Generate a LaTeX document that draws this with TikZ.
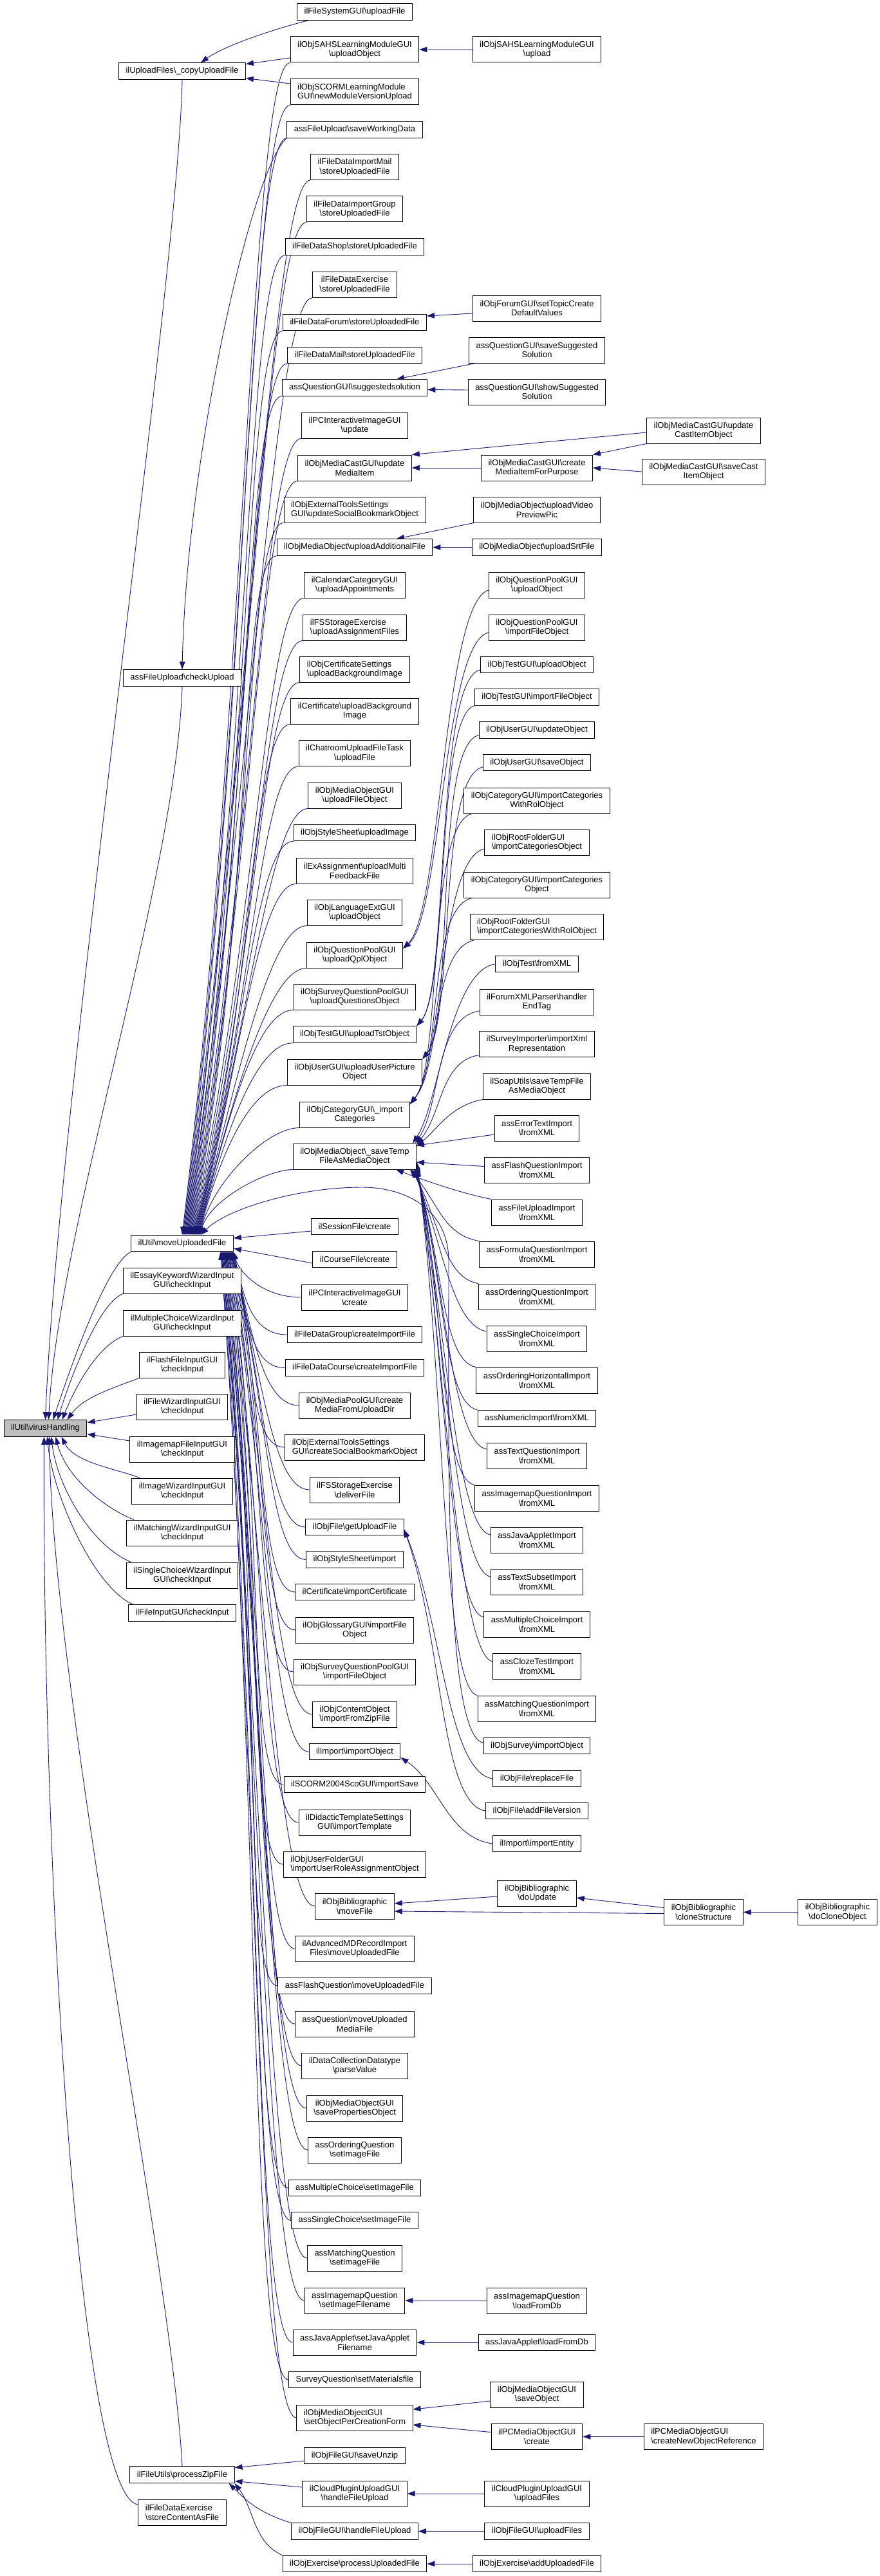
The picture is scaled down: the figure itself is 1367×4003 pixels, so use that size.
\documentclass[tikz,border=0pt]{standalone}
\usepackage{fontspec}
\setmainfont{Liberation Sans}
\usetikzlibrary{arrows.meta,backgrounds}
\definecolor{edgeblue}{HTML}{191970}
\newcommand{\bsl}{\textbackslash}

\begin{document}
\begin{tikzpicture}[x=1pt,y=-1pt,
  fn/.style={draw=black,line width=1pt,fill=white,inner xsep=11pt,inner ysep=2pt,minimum height=25.5pt,align=center,font=\fontsize{13}{14.7}\selectfont},
  fn2/.style={fn,minimum height=40pt},
  fnl/.style={fn2,align=left},
  root/.style={fn,fill=black!25},
  call/.style={edgeblue,line width=0.9pt,-{Triangle[length=12pt,width=8.5pt]}}]
\path[use as bounding box] (0,0) rectangle (1367,4003);

\node[root] (vh) at (70.5,2219.5) {ilUtil\bsl virusHandling};

\node[fn] (copy) at (283,110.5) {ilUploadFiles\bsl\_copyUploadFile};
\node[fn] (chkup) at (283,1053.5) {assFileUpload\bsl checkUpload};
\node[fn] (mv) at (283,1932) {ilUtil\bsl moveUploadedFile};
\node[fn2] (essay) at (283,1990) {ilEssayKeywordWizardInput\\GUI\bsl checkInput};
\node[fn2] (mcwiz) at (283,2056) {ilMultipleChoiceWizardInput\\GUI\bsl checkInput};
\node[fn2] (flashin) at (283,2121) {ilFlashFileInputGUI\\\bsl checkInput};
\node[fn2] (filewiz) at (283,2186) {ilFileWizardInputGUI\\\bsl checkInput};
\node[fn2] (imgmapin) at (283,2252) {ilImagemapFileInputGUI\\\bsl checkInput};
\node[fn2] (imgwiz) at (283,2317) {ilImageWizardInputGUI\\\bsl checkInput};
\node[fn2] (matchwiz) at (283,2382) {ilMatchingWizardInputGUI\\\bsl checkInput};
\node[fn2] (scwiz) at (283,2448) {ilSingleChoiceWizardInput\\GUI\bsl checkInput};
\node[fn] (filein) at (283,2506.5) {ilFileInputGUI\bsl checkInput};
\node[fn] (zip) at (283,3845.6) {ilFileUtils\bsl processZipFile};
\node[fnl] (exstorecontent) at (283,3904) {ilFileDataExercise\\\bsl storeContentAsFile};

\node[fn] (fs) at (551,18.5) {ilFileSystemGUI\bsl uploadFile};
\node[fn2] (sahsobj) at (551,77) {ilObjSAHSLearningModuleGUI\\\bsl uploadObject};
\node[fnl] (scorm) at (551,143) {ilObjSCORMLearningModule\\GUI\bsl newModuleVersionUpload};
\node[fn] (savewd) at (551,201.5) {assFileUpload\bsl saveWorkingData};
\node[fn2] (impmail) at (551,259.5) {ilFileDataImportMail\\\bsl storeUploadedFile};
\node[fn2] (impgroup) at (551,325) {ilFileDataImportGroup\\\bsl storeUploadedFile};
\node[fn] (shopstore) at (551,383.5) {ilFileDataShop\bsl storeUploadedFile};
\node[fn2] (exstore) at (551,442.5) {ilFileDataExercise\\\bsl storeUploadedFile};
\node[fn] (forumstore) at (551,501) {ilFileDataForum\bsl storeUploadedFile};
\node[fn] (mailstore) at (551,552) {ilFileDataMail\bsl storeUploadedFile};
\node[fn] (sugg) at (551,602.5) {assQuestionGUI\bsl suggestedsolution};
\node[fn2] (pcupdate) at (551,661) {ilPCInteractiveImageGUI\\\bsl update};
\node[fn2] (updmedia) at (551,727) {ilObjMediaCastGUI\bsl update\\MediaItem};
\node[fnl] (updbookmark) at (551,792) {ilObjExternalToolsSettings\\GUI\bsl updateSocialBookmarkObject};
\node[fn] (addfile) at (551,850.5) {ilObjMediaObject\bsl uploadAdditionalFile};
\node[fn2] (calupload) at (551,909) {ilCalendarCategoryGUI\\\bsl uploadAppointments};
\node[fnl] (fsassign) at (551,975) {ilFSStorageExercise\\\bsl uploadAssignmentFiles};
\node[fnl] (certsetbg) at (551,1040) {ilObjCertificateSettings\\\bsl uploadBackgroundImage};
\node[fn2] (certbg) at (551,1105) {ilCertificate\bsl uploadBackground\\Image};
\node[fn2] (chatupload) at (551,1170.5) {ilChatroomUploadFileTask\\\bsl uploadFile};
\node[fn2] (mobupload) at (551,1236) {ilObjMediaObjectGUI\\\bsl uploadFileObject};
\node[fn] (styleimg) at (551,1294) {ilObjStyleSheet\bsl uploadImage};
\node[fn2] (exmulti) at (551,1353) {ilExAssignment\bsl uploadMulti\\FeedbackFile};
\node[fn2] (langupload) at (551,1418) {ilObjLanguageExtGUI\\\bsl uploadObject};
\node[fn2] (qpl) at (551,1484) {ilObjQuestionPoolGUI\\\bsl uploadQplObject};
\node[fn2] (sqpupload) at (551,1549) {ilObjSurveyQuestionPoolGUI\\\bsl uploadQuestionsObject};
\node[fn] (tst) at (551,1607.5) {ilObjTestGUI\bsl uploadTstObject};
\node[fn2] (userpic) at (551,1666) {ilObjUserGUI\bsl uploadUserPicture\\Object};
\node[fn2] (impcat) at (551,1732) {ilObjCategoryGUI\bsl\_import\\Categories};
\node[fn2] (savetemp) at (551,1797) {ilObjMediaObject\bsl\_saveTemp\\FileAsMediaObject};
\node[fn] (sesscreate) at (551,1906) {ilSessionFile\bsl create};
\node[fn] (crscreate) at (551,1957) {ilCourseFile\bsl create};
\node[fn2] (pccreate) at (551,2016) {ilPCInteractiveImageGUI\\\bsl create};
\node[fn] (grpimport) at (551,2074) {ilFileDataGroup\bsl createImportFile};
\node[fn] (crsimport) at (551,2125.5) {ilFileDataCourse\bsl createImportFile};
\node[fn2] (mepcreate) at (551,2184) {ilObjMediaPoolGUI\bsl create\\MediaFromUploadDir};
\node[fnl] (createbookmark) at (551,2249) {ilObjExternalToolsSettings\\GUI\bsl createSocialBookmarkObject};
\node[fn2] (fsdeliver) at (551,2315) {ilFSStorageExercise\\\bsl deliverFile};
\node[fn] (getupload) at (551,2373) {ilObjFile\bsl getUploadFile};
\node[fn] (styleimport) at (551,2423.5) {ilObjStyleSheet\bsl import};
\node[fn] (certimport) at (551,2474) {ilCertificate\bsl importCertificate};
\node[fn2] (gloimport) at (551,2533) {ilObjGlossaryGUI\bsl importFile\\Object};
\node[fn2] (sqpimport) at (551,2598) {ilObjSurveyQuestionPoolGUI\\\bsl importFileObject};
\node[fn2] (zipimport) at (551,2664) {ilObjContentObject\\\bsl importFromZipFile};
\node[fn] (impobject) at (551,2722) {ilImport\bsl importObject};
\node[fn] (scoimport) at (551,2773) {ilSCORM2004ScoGUI\bsl importSave};
\node[fn2] (dtplimport) at (551,2832) {ilDidacticTemplateSettings\\GUI\bsl importTemplate};
\node[fnl] (usrrole) at (551,2897) {ilObjUserFolderGUI\\\bsl importUserRoleAssignmentObject};
\node[fn2] (bibmove) at (551,2962) {ilObjBibliographic\\\bsl moveFile};
\node[fn2] (mdmove) at (551,3028) {ilAdvancedMDRecordImport\\Files\bsl moveUploadedFile};
\node[fn] (flashmove) at (551,3086) {assFlashQuestion\bsl moveUploadedFile};
\node[fn2] (qstmedia) at (551,3145) {assQuestion\bsl moveUploaded\\MediaFile};
\node[fn2] (dclparse) at (551,3210) {ilDataCollectionDatatype\\\bsl parseValue};
\node[fn2] (mobprops) at (551,3276) {ilObjMediaObjectGUI\\\bsl savePropertiesObject};
\node[fn2] (ordimg) at (551,3341) {assOrderingQuestion\\\bsl setImageFile};
\node[fn] (mcimg) at (551,3400) {assMultipleChoice\bsl setImageFile};
\node[fn] (scimg) at (551,3450.5) {assSingleChoice\bsl setImageFile};
\node[fn2] (matchimg) at (551,3509) {assMatchingQuestion\\\bsl setImageFile};
\node[fn2] (imgmapset) at (551,3575) {assImagemapQuestion\\\bsl setImageFilename};
\node[fn2] (javaset) at (551,3640) {assJavaApplet\bsl setJavaApplet\\Filename};
\node[fn] (surveymat) at (551,3698) {SurveyQuestion\bsl setMaterialsfile};
\node[fnl] (percreation) at (551,3757) {ilObjMediaObjectGUI\\\bsl setObjectPerCreationForm};
\node[fn] (saveunzip) at (551,3816) {ilObjFileGUI\bsl saveUnzip};
\node[fn2] (cloudhandle) at (551,3875) {ilCloudPluginUploadGUI\\\bsl handleFileUpload};
\node[fn] (filehandle) at (551,3933.5) {ilObjFileGUI\bsl handleFileUpload};
\node[fn] (exproc) at (551,3984) {ilObjExercise\bsl processUploadedFile};

\node[fn2] (sahsup) at (834,77) {ilObjSAHSLearningModuleGUI\\\bsl upload};
\node[fn2] (forumtopic) at (834,479) {ilObjForumGUI\bsl setTopicCreate\\DefaultValues};
\node[fn2] (savesugg) at (834,544) {assQuestionGUI\bsl saveSuggested\\Solution};
\node[fn2] (showsugg) at (834,609) {assQuestionGUI\bsl showSuggested\\Solution};
\node[fn2] (createmi) at (834,727) {ilObjMediaCastGUI\bsl create\\MediaItemForPurpose};
\node[fn2] (videopic) at (834,792) {ilObjMediaObject\bsl uploadVideo\\PreviewPic};
\node[fn] (srt) at (834,850.5) {ilObjMediaObject\bsl uploadSrtFile};
\node[fn2] (qpup) at (834,909) {ilObjQuestionPoolGUI\\\bsl uploadObject};
\node[fn2] (qpimp) at (834,975) {ilObjQuestionPoolGUI\\\bsl importFileObject};
\node[fn] (testup) at (834,1033) {ilObjTestGUI\bsl uploadObject};
\node[fn] (testimp) at (834,1083.5) {ilObjTestGUI\bsl importFileObject};
\node[fn] (userupd) at (834,1134.5) {ilObjUserGUI\bsl updateObject};
\node[fn] (usersave) at (834,1185) {ilObjUserGUI\bsl saveObject};
\node[fn2] (catimprol) at (834,1244) {ilObjCategoryGUI\bsl importCategories\\WithRolObject};
\node[fnl] (rootimpcat) at (834,1309) {ilObjRootFolderGUI\\\bsl importCategoriesObject};
\node[fn2] (catimpcat) at (834,1375) {ilObjCategoryGUI\bsl importCategories\\Object};
\node[fnl] (rootimprol) at (834,1440) {ilObjRootFolderGUI\\\bsl importCategoriesWithRolObject};
\node[fn] (testxml) at (834,1498) {ilObjTest\bsl fromXML};
\node[fn2] (forumxml) at (834,1557) {ilForumXMLParser\bsl handler\\EndTag};
\node[fn2] (surveyimp) at (834,1622.5) {ilSurveyImporter\bsl importXml\\Representation};
\node[fn2] (soap) at (834,1688) {ilSoapUtils\bsl saveTempFile\\AsMediaObject};
\node[fn2] (errtext) at (834,1753) {assErrorTextImport\\\bsl fromXML};
\node[fn2] (flashimp) at (834,1818.5) {assFlashQuestionImport\\\bsl fromXML};
\node[fn2] (fileupimp) at (834,1884) {assFileUploadImport\\\bsl fromXML};
\node[fn2] (formulaimp) at (834,1949) {assFormulaQuestionImport\\\bsl fromXML};
\node[fn2] (orderimp) at (834,2015) {assOrderingQuestionImport\\\bsl fromXML};
\node[fn2] (scimp) at (834,2080) {assSingleChoiceImport\\\bsl fromXML};
\node[fn2] (orderhimp) at (834,2145) {assOrderingHorizontalImport\\\bsl fromXML};
\node[fn] (numimp) at (834,2204) {assNumericImport\bsl fromXML};
\node[fn2] (textimp) at (834,2262) {assTextQuestionImport\\\bsl fromXML};
\node[fn2] (imgmapimp) at (834,2328) {assImagemapQuestionImport\\\bsl fromXML};
\node[fn2] (javaimp) at (834,2393) {assJavaAppletImport\\\bsl fromXML};
\node[fn2] (subsetimp) at (834,2458) {assTextSubsetImport\\\bsl fromXML};
\node[fn2] (mcimp) at (834,2524) {assMultipleChoiceImport\\\bsl fromXML};
\node[fn2] (clozeimp) at (834,2589) {assClozeTestImport\\\bsl fromXML};
\node[fn2] (matchimp) at (834,2655) {assMatchingQuestionImport\\\bsl fromXML};
\node[fn] (survimport) at (834,2713) {ilObjSurvey\bsl importObject};
\node[fn] (replacefile) at (834,2764) {ilObjFile\bsl replaceFile};
\node[fn] (addversion) at (834,2814) {ilObjFile\bsl addFileVersion};
\node[fn] (impentity) at (834,2865) {ilImport\bsl importEntity};
\node[fn2] (bibupdate) at (834,2942) {ilObjBibliographic\\\bsl doUpdate};
\node[fn2] (imgmapload) at (834,3575) {assImagemapQuestion\\\bsl loadFromDb};
\node[fn] (javaload) at (834,3640) {assJavaApplet\bsl loadFromDb};
\node[fn2] (mobsave) at (834,3721) {ilObjMediaObjectGUI\\\bsl saveObject};
\node[fn2] (pcmobcreate) at (834,3786.5) {ilPCMediaObjectGUI\\\bsl create};
\node[fn2] (cloudupload) at (834,3875) {ilCloudPluginUploadGUI\\\bsl uploadFiles};
\node[fn] (fileupload) at (834,3933.5) {ilObjFileGUI\bsl uploadFiles};
\node[fn] (exadd) at (834,3984) {ilObjExercise\bsl addUploadedFile};

\node[fn2] (castitem) at (1093,669) {ilObjMediaCastGUI\bsl update\\CastItemObject};
\node[fn2] (savecast) at (1093,733) {ilObjMediaCastGUI\bsl saveCast\\ItemObject};
\node[fn2] (bibclone) at (1093,2971.5) {ilObjBibliographic\\\bsl cloneStructure};
\node[fnl] (pcref) at (1093,3786.5) {ilPCMediaObjectGUI\\\bsl createNewObjectReference};
\node[fn2] (bibdoclone) at (1301,2971.5) {ilObjBibliographic\\\bsl doCloneObject};

\begin{pgfonlayer}{background}
\fill[white] (0,0) rectangle (1367,4003);
% callers of virusHandling
\draw[call] (copy.south) .. controls +(-5,300) and +(20,-500) .. (vh.north);
\draw[call] (chkup.south) .. controls +(-10,300) and +(15,-300) .. ([xshift=5pt]vh.north);
\draw[call] (mv.south west) .. controls +(-40,20) and +(20,-60) .. ([xshift=12pt]vh.north);
\draw[call] (essay.south west) .. controls +(-40,15) and +(15,-50) .. ([xshift=19pt]vh.north);
\draw[call] (mcwiz.south west) .. controls +(-40,15) and +(20,-50) .. ([xshift=26pt]vh.north);
\draw[call] (flashin.south west) .. controls +(-40,15) and +(25,-35) .. ([xshift=34pt]vh.north);
\draw[call] ([yshift=-12pt]filewiz.west) -- ([yshift=9pt]vh.east);
\draw[call] ([yshift=13pt]imgmapin.west) -- ([yshift=-9pt]vh.east);
\draw[call] ([xshift=13pt]imgwiz.north west) .. controls +(-40,-15) and +(20,40) .. ([xshift=25pt]vh.south);
\draw[call] ([xshift=12pt]matchwiz.north west) .. controls +(-50,-20) and +(15,60) .. ([xshift=16pt]vh.south);
\draw[call] ([xshift=8pt]scwiz.north west) .. controls +(-60,-25) and +(10,80) .. ([xshift=9pt]vh.south);
\draw[call] ([xshift=8pt]filein.north west) .. controls +(-60,-25) and +(8,90) .. ([xshift=3pt]vh.south);
\draw[call] (zip.north) .. controls +(-15,-300) and +(5,400) .. ([xshift=6pt]vh.south);
\draw[call] ([yshift=12pt]exstorecontent.west) .. controls +(-93,-12) and +(-3,668) .. ([xshift=-2pt]vh.south);
% callers of copyUploadFile and checkUpload
\draw[call] ([xshift=18pt]fs.south west) .. controls +(-60,15) and +(35,-25) .. ([xshift=29pt]copy.north);
\draw[call] ([yshift=-13pt]sahsobj.west) -- ([yshift=11pt]copy.east);
\draw[call] ([yshift=13pt]scorm.west) -- ([yshift=-11pt]copy.east);
\draw[call] (savewd.south west) .. controls +(-54,46) and +(7,-331) .. (chkup.north);
% callers of moveUploadedFile
\draw[call] (sahsobj.south west) .. controls +(-60,0) and +(100,-829) .. (mv.north);
\draw[call] (scorm.south west) .. controls +(-60,0) and +(100,-799) .. ([xshift=1pt]mv.north);
\draw[call] (savewd.south west) .. controls +(-60,0) and +(100,-773) .. ([xshift=2pt]mv.north);
\draw[call] (impmail.south west) .. controls +(-60,0) and +(100,-747) .. ([xshift=3pt]mv.north);
\draw[call] (impgroup.south west) .. controls +(-60,0) and +(100,-717) .. ([xshift=4pt]mv.north);
\draw[call] (shopstore.south west) .. controls +(-60,0) and +(100,-691) .. ([xshift=5pt]mv.north);
\draw[call] (exstore.south west) .. controls +(-60,0) and +(100,-664) .. ([xshift=6pt]mv.north);
\draw[call] (forumstore.south west) .. controls +(-60,0) and +(100,-638) .. ([xshift=7pt]mv.north);
\draw[call] (mailstore.south west) .. controls +(-60,0) and +(100,-615) .. ([xshift=8pt]mv.north);
\draw[call] (sugg.south west) .. controls +(-60,0) and +(100,-592) .. ([xshift=9pt]mv.north);
\draw[call] (pcupdate.south west) .. controls +(-60,0) and +(100,-566) .. ([xshift=10pt]mv.north);
\draw[call] (updmedia.south west) .. controls +(-60,0) and +(100,-536) .. ([xshift=11pt]mv.north);
\draw[call] (updbookmark.south west) .. controls +(-60,0) and +(100,-507) .. ([xshift=12pt]mv.north);
\draw[call] (addfile.south west) .. controls +(-60,0) and +(100,-481) .. ([xshift=13pt]mv.north);
\draw[call] (calupload.south west) .. controls +(-60,0) and +(100,-454) .. ([xshift=14pt]mv.north);
\draw[call] (fsassign.south west) .. controls +(-60,0) and +(100,-425) .. ([xshift=15pt]mv.north);
\draw[call] (certsetbg.south west) .. controls +(-60,0) and +(100,-396) .. ([xshift=16pt]mv.north);
\draw[call] (certbg.south west) .. controls +(-60,0) and +(97,-366) .. ([xshift=17pt]mv.north);
\draw[call] (chatupload.south west) .. controls +(-60,0) and +(90,-337) .. ([xshift=18pt]mv.north);
\draw[call] (mobupload.south west) .. controls +(-60,0) and +(82,-307) .. ([xshift=19pt]mv.north);
\draw[call] (styleimg.south west) .. controls +(-60,0) and +(75,-281) .. ([xshift=20pt]mv.north);
\draw[call] (exmulti.south west) .. controls +(-60,0) and +(68,-255) .. ([xshift=21pt]mv.north);
\draw[call] (langupload.south west) .. controls +(-60,0) and +(60,-225) .. ([xshift=22pt]mv.north);
\draw[call] (qpl.south west) .. controls +(-60,0) and +(52,-196) .. ([xshift=23pt]mv.north);
\draw[call] (sqpupload.south west) .. controls +(-60,0) and +(44,-166) .. ([xshift=24pt]mv.north);
\draw[call] (tst.south west) .. controls +(-60,0) and +(37,-140) .. ([xshift=25pt]mv.north);
\draw[call] (userpic.south west) .. controls +(-60,0) and +(30,-114) .. ([xshift=26pt]mv.north);
\draw[call] (impcat.south west) .. controls +(-50,0) and +(22,-84) .. ([xshift=27pt]mv.north);
\draw[call] (savetemp.south west) .. controls +(-40,0) and +(15,-55) .. ([xshift=28pt]mv.north);
\draw[call] ([yshift=-7pt]sesscreate.west) -- ([yshift=8pt]mv.east);
\draw[call] ([yshift=-6pt]crscreate.west) -- ([yshift=-8pt]mv.east);
\draw[call] (pccreate.west) .. controls +(-60,0) and +(9,32) .. (mv.south east);
\draw[call] (grpimport.west) .. controls +(-60,0) and +(16,58) .. ([xshift=-1pt]mv.south east);
\draw[call] (crsimport.west) .. controls +(-60,0) and +(22,81) .. ([xshift=-1pt]mv.south east);
\draw[call] (mepcreate.west) .. controls +(-60,0) and +(29,108) .. ([xshift=-2pt]mv.south east);
\draw[call] (createbookmark.west) .. controls +(-60,0) and +(37,137) .. ([xshift=-3pt]mv.south east);
\draw[call] (fsdeliver.west) .. controls +(-60,0) and +(45,167) .. ([xshift=-4pt]mv.south east);
\draw[call] (getupload.west) .. controls +(-60,0) and +(51,193) .. ([xshift=-4pt]mv.south east);
\draw[call] (styleimport.west) .. controls +(-60,0) and +(57,216) .. ([xshift=-5pt]mv.south east);
\draw[call] (certimport.west) .. controls +(-60,0) and +(60,238) .. ([xshift=-6pt]mv.south east);
\draw[call] (gloimport.west) .. controls +(-60,0) and +(60,265) .. ([xshift=-6pt]mv.south east);
\draw[call] (sqpimport.west) .. controls +(-60,0) and +(60,294) .. ([xshift=-7pt]mv.south east);
\draw[call] (zipimport.west) .. controls +(-60,0) and +(60,324) .. ([xshift=-8pt]mv.south east);
\draw[call] (impobject.west) .. controls +(-60,0) and +(60,350) .. ([xshift=-8pt]mv.south east);
\draw[call] (scoimport.west) .. controls +(-60,0) and +(60,373) .. ([xshift=-9pt]mv.south east);
\draw[call] (dtplimport.west) .. controls +(-60,0) and +(60,399) .. ([xshift=-10pt]mv.south east);
\draw[call] (usrrole.west) .. controls +(-60,0) and +(60,429) .. ([xshift=-11pt]mv.south east);
\draw[call] (bibmove.west) .. controls +(-60,0) and +(60,458) .. ([xshift=-11pt]mv.south east);
\draw[call] (mdmove.west) .. controls +(-60,0) and +(60,488) .. ([xshift=-12pt]mv.south east);
\draw[call] (flashmove.west) .. controls +(-60,0) and +(60,514) .. ([xshift=-13pt]mv.south east);
\draw[call] (qstmedia.west) .. controls +(-60,0) and +(60,540) .. ([xshift=-13pt]mv.south east);
\draw[call] (dclparse.west) .. controls +(-60,0) and +(60,570) .. ([xshift=-14pt]mv.south east);
\draw[call] (mobprops.west) .. controls +(-60,0) and +(60,599) .. ([xshift=-15pt]mv.south east);
\draw[call] (ordimg.west) .. controls +(-60,0) and +(60,628) .. ([xshift=-15pt]mv.south east);
\draw[call] (mcimg.west) .. controls +(-60,0) and +(60,655) .. ([xshift=-16pt]mv.south east);
\draw[call] (scimg.west) .. controls +(-60,0) and +(60,678) .. ([xshift=-17pt]mv.south east);
\draw[call] (matchimg.west) .. controls +(-60,0) and +(60,704) .. ([xshift=-18pt]mv.south east);
\draw[call] (imgmapset.west) .. controls +(-60,0) and +(60,734) .. ([xshift=-18pt]mv.south east);
\draw[call] (javaset.west) .. controls +(-60,0) and +(60,763) .. ([xshift=-19pt]mv.south east);
\draw[call] (surveymat.west) .. controls +(-60,0) and +(60,789) .. ([xshift=-20pt]mv.south east);
\draw[call] (percreation.west) .. controls +(-60,0) and +(60,816) .. ([xshift=-20pt]mv.south east);
\draw[call] ([yshift=5pt]survimport.west) .. controls +(-60,-10) and +(0,300) .. (697,1960) .. controls +(0,-80) and +(70,0) .. (562,1845) .. controls +(-100,0) and +(40,-40) .. ([xshift=29pt]mv.north);
% callers of processZipFile
\draw[call] ([yshift=-8pt]saveunzip.west) -- ([yshift=11pt]zip.east);
\draw[call] ([yshift=10pt]cloudhandle.west) -- ([yshift=-10pt]zip.east);
\draw[call] (filehandle.north west) .. controls +(-50,-15) and +(25,25) .. ([xshift=-9pt]zip.south east);
\draw[call] (exproc.north west) .. controls +(-45,-20) and +(30,40) .. (zip.south east);
% third column
\draw[call] (sahsup.west) -- (sahsobj.east);
\draw[call] ([yshift=-8pt]forumtopic.west) -- ([yshift=10pt]forumstore.east);
\draw[call] ([xshift=10pt]savesugg.south west) -- ([xshift=65pt]sugg.north);
\draw[call] ([yshift=3pt]showsugg.west) -- ([yshift=-3pt]sugg.east);
\draw[call] ([yshift=-3pt]castitem.west) -- (updmedia.north east);
\draw[call] (castitem.south west) -- (createmi.north east);
\draw[call] (createmi.west) -- (updmedia.east);
\draw[call] (savecast.west) -- (createmi.east);
\draw[call] ([xshift=1pt]videopic.south west) -- ([xshift=65pt]addfile.north);
\draw[call] (srt.west) -- (addfile.east);
\draw[call] ([yshift=-8pt]qpup.west) .. controls +(-70,20) and +(60,-60) .. ([yshift=10pt]qpl.east);
\draw[call] ([yshift=-8pt]qpimp.west) .. controls +(-70,15) and +(60,-50) .. ([yshift=10pt]qpl.east);
\draw[call] ([yshift=-8pt]testup.west) .. controls +(-70,15) and +(50,-60) .. (tst.north east);
\draw[call] (testimp.south west) .. controls +(-60,15) and +(50,-60) .. (tst.north east);
\draw[call] ([yshift=-8pt]userupd.west) .. controls +(-70,15) and +(50,-60) .. (userpic.north east);
\draw[call] ([yshift=-7pt]usersave.west) .. controls +(-70,15) and +(50,-60) .. (userpic.north east);
\draw[call] ([xshift=13pt]catimprol.south west) .. controls +(-70,15) and +(50,-60) .. ([yshift=-4pt]impcat.north east);
\draw[call] ([yshift=-10pt]rootimpcat.west) .. controls +(-70,15) and +(50,-60) .. ([yshift=-4pt]impcat.north east);
\draw[call] ([xshift=13pt]catimpcat.south west) .. controls +(-70,15) and +(50,-60) .. ([yshift=-4pt]impcat.north east);
\draw[call] ([xshift=8pt]rootimprol.south west) .. controls +(-70,15) and +(50,-60) .. ([yshift=-4pt]impcat.north east);
\draw[call] (testxml.west) .. controls +(-70,10) and +(40,-60) .. ([xshift=-6pt]savetemp.north east);
\draw[call] ([yshift=-14pt]forumxml.west) .. controls +(-70,10) and +(40,-60) .. ([xshift=-2pt]savetemp.north east);
\draw[call] ([yshift=-17pt]surveyimp.west) .. controls +(-60,10) and +(40,-50) .. ([yshift=-2pt]savetemp.north east);
\draw[call] (soap.south west) .. controls +(-50,10) and +(35,-30) .. ([yshift=-5pt]savetemp.north east);
\draw[call] ([yshift=-10pt]errtext.west) -- ([yshift=17pt]savetemp.east);
\draw[call] ([yshift=6pt]flashimp.west) -- ([yshift=-9pt]savetemp.east);
\draw[call] (fileupimp.north west) .. controls +(-50,-10) and +(40,15) .. ([xshift=-32pt]savetemp.south east);
\draw[call] (formulaimp.north west) .. controls +(-55,-10) and +(45,55) .. ([xshift=-10pt]savetemp.south east);
\draw[call] (orderimp.north west) .. controls +(-55,-10) and +(45,80) .. ([xshift=-8pt]savetemp.south east);
\draw[call] ([yshift=11pt]scimp.west) .. controls +(-55,-10) and +(45,105) .. ([xshift=-6pt]savetemp.south east);
\draw[call] (orderhimp.north west) .. controls +(-55,-10) and +(45,130) .. ([xshift=-4pt]savetemp.south east);
\draw[call] (numimp.north west) .. controls +(-55,-10) and +(45,155) .. ([xshift=-2pt]savetemp.south east);
\draw[call] ([yshift=10pt]textimp.west) .. controls +(-55,-10) and +(45,178) .. (savetemp.south east);
\draw[call] (imgmapimp.north west) .. controls +(-55,-10) and +(45,204) .. ([yshift=2pt]savetemp.south east);
\draw[call] ([yshift=8pt]javaimp.west) .. controls +(-55,-10) and +(45,230) .. ([yshift=4pt]savetemp.south east);
\draw[call] ([yshift=8pt]subsetimp.west) .. controls +(-55,-10) and +(45,256) .. ([yshift=6pt]savetemp.south east);
\draw[call] ([yshift=11pt]mcimp.west) .. controls +(-55,-10) and +(45,283) .. ([yshift=8pt]savetemp.south east);
\draw[call] ([yshift=7pt]clozeimp.west) .. controls +(-55,-10) and +(45,309) .. ([yshift=10pt]savetemp.south east);
\draw[call] (matchimp.north west) .. controls +(-55,-10) and +(45,335) .. ([yshift=12pt]savetemp.south east);
\draw[call] (replacefile.west) .. controls +(-70,-10) and +(60,150) .. ([yshift=-4pt]getupload.east);
\draw[call] (addversion.west) .. controls +(-70,-10) and +(60,170) .. ([yshift=-4pt]getupload.east);
\draw[call] (impentity.west) .. controls +(-70,-10) and +(60,40) .. ([yshift=-9pt]impobject.east);
\draw[call] ([yshift=-5pt]bibupdate.west) -- ([yshift=4pt]bibmove.east);
\draw[call] ([yshift=-2pt]bibclone.west) -- ([yshift=-8pt]bibmove.east);
\draw[call] ([yshift=7pt]bibclone.west) -- ([yshift=-7pt]bibupdate.east);
\draw[call] (bibdoclone.west) -- (bibclone.east);
\draw[call] (imgmapload.west) -- (imgmapset.east);
\draw[call] (javaload.west) -- (javaset.east);
\draw[call] ([yshift=-10pt]mobsave.west) -- ([yshift=13pt]percreation.east);
\draw[call] ([yshift=7pt]pcmobcreate.west) -- ([yshift=-11pt]percreation.east);
\draw[call] (pcref.west) -- (pcmobcreate.east);
\draw[call] (cloudupload.west) -- (cloudhandle.east);
\draw[call] (fileupload.west) -- (filehandle.east);
\draw[call] (exadd.west) -- (exproc.east);
\end{pgfonlayer}
\end{tikzpicture}
\end{document}
